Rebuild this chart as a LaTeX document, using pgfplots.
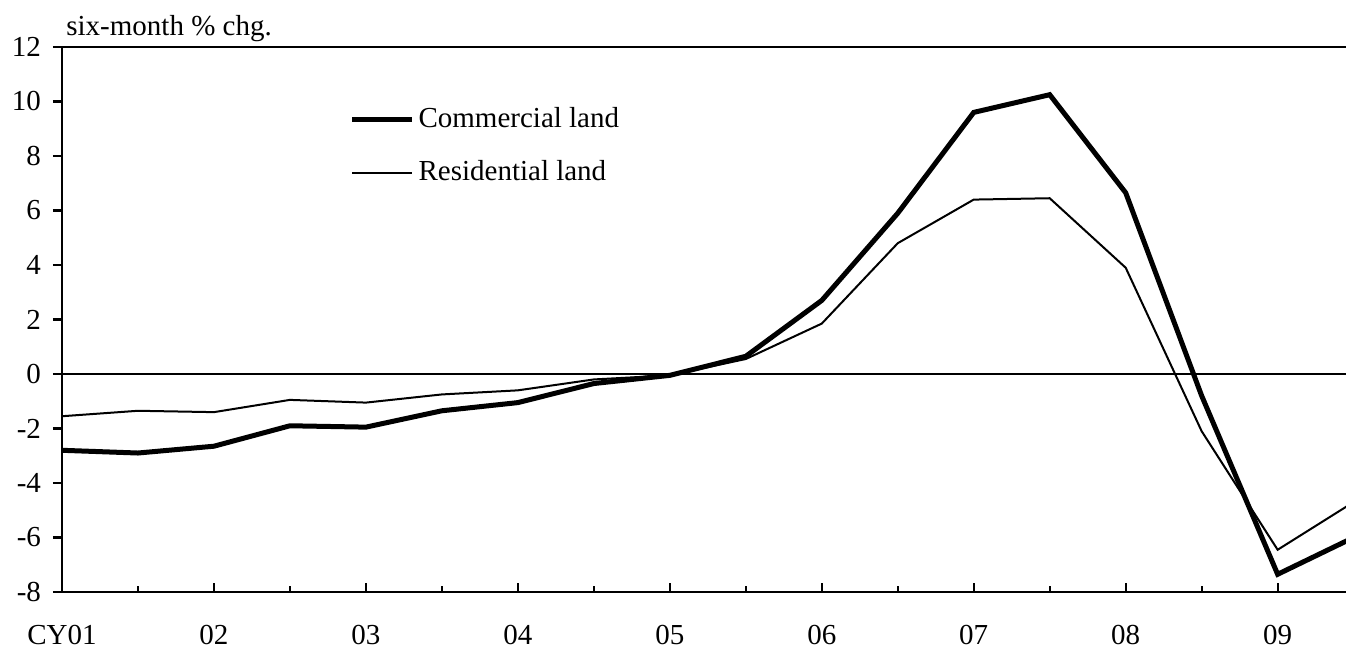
\documentclass[border=0pt]{standalone}
\usepackage{fontspec}
\setmainfont{Liberation Serif}
\usepackage{pgfplots}
\pgfplotsset{compat=1.18}
\begin{document}
\fontsize{14.5pt}{17pt}\selectfont
\begin{tikzpicture}
\path[use as bounding box] (-31pt,-28pt) rectangle (642pt,296pt);
\begin{axis}[
  name=ax,
  at={(0,0)}, anchor=south west,
  scale only axis, width=643pt, height=272.5pt,
  xmin=0, xmax=8.463, ymin=-8, ymax=12,
  clip=true,
  axis line style={line width=1.15pt},
  xtick={0,1,2,3,4,5,6,7,8},
  xticklabels={CY01,02,03,04,05,06,07,08,09},
  minor xtick={0.5,1.5,2.5,3.5,4.5,5.5,6.5,7.5},
  ytick={-8,-6,-4,-2,0,2,4,6,8,10,12},
  yticklabels={-8,-6,-4,-2,0,2,4,6,8,10,12},
  xtick pos=bottom, ytick pos=left,
  tick align=inside,
  ytick align=outside,
  major tick length=4.5pt, minor tick length=3pt,
  tick style={line width=1.1pt, black},
  xticklabel style={yshift=-11.5pt},
  yticklabel style={xshift=-1pt},
  tick label style={font=\fontsize{14.5pt}{17pt}\selectfont},
  legend style={draw=none, fill=none, at={(rel axis cs:0.2233,0.898)}, anchor=north west,
    font=\fontsize{14.5pt}{17pt}\selectfont, row sep=10.5pt, inner sep=0pt},
  legend cell align=left,
  legend image code/.code={\draw[#1] (0pt,0pt) -- (30pt,0pt);},
]
\draw[line width=0.8pt] (axis cs:0,0) -- (axis cs:8.463,0);
\addplot[black, line width=2.5pt, line join=miter] coordinates {
(0,-2.8) (0.5,-2.9) (1,-2.65) (1.5,-1.9) (2,-1.95) (2.5,-1.35) (3,-1.05) (3.5,-0.35)
(4,-0.05) (4.5,0.65) (5,2.7) (5.5,5.9) (6,9.6) (6.5,10.25) (7,6.65) (7.5,-0.8) (8,-7.35) (8.5,-6.0)};
\addlegendentry{Commercial land}
\addplot[black, line width=1pt] coordinates {
(0,-1.55) (0.5,-1.35) (1,-1.4) (1.5,-0.95) (2,-1.05) (2.5,-0.75) (3,-0.6) (3.5,-0.2)
(4,-0.05) (4.5,0.55) (5,1.85) (5.5,4.8) (6,6.4) (6.5,6.45) (7,3.9) (7.5,-2.1) (8,-6.45) (8.5,-4.7)};
\addlegendentry{Residential land}
\end{axis}
\node[anchor=base west, inner sep=0pt] at ([xshift=2pt,yshift=5.5pt]ax.north west) {six-month \% chg.};
\end{tikzpicture}
\end{document}
